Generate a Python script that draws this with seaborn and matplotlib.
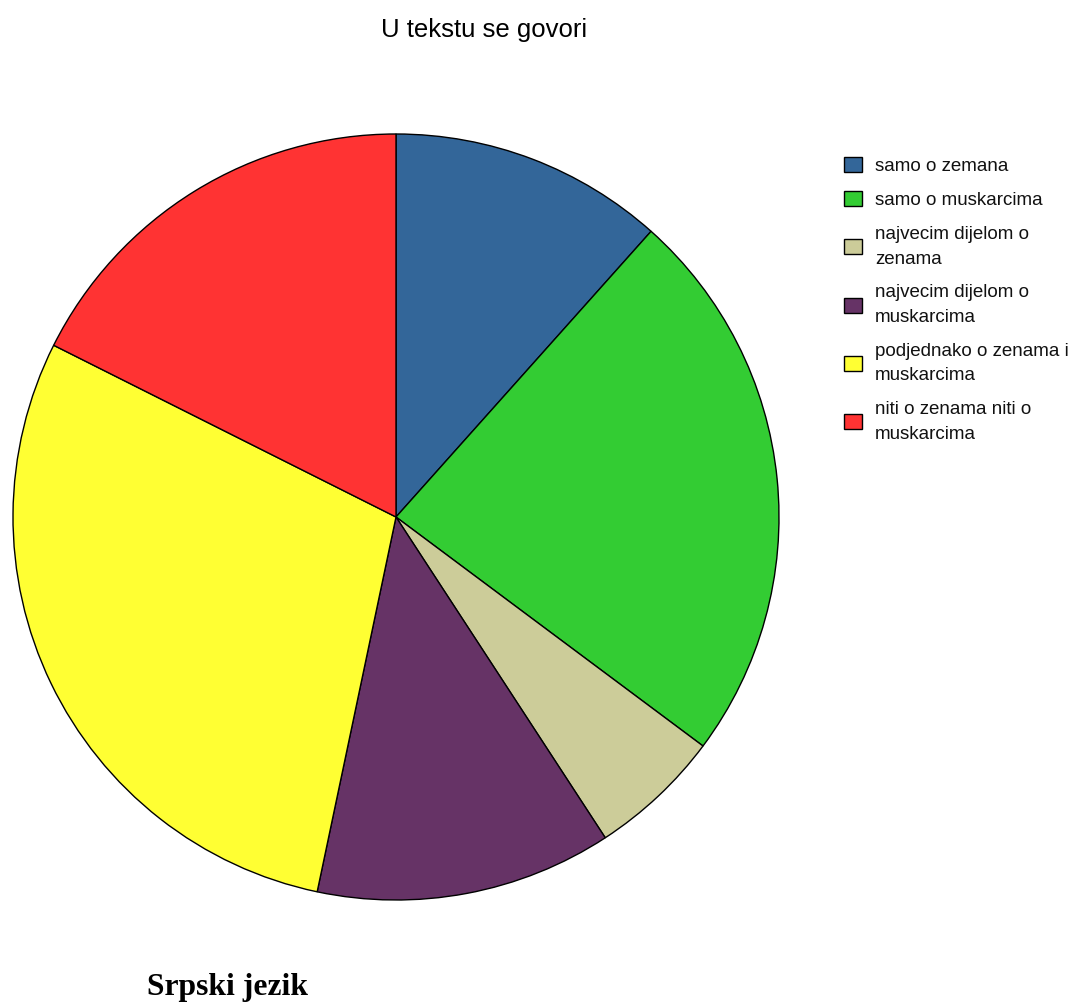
import matplotlib
matplotlib.use("Agg")
import matplotlib.pyplot as plt
import seaborn as sns

sns.set_theme(style="white")
plt.rcParams['font.family'] = ['Liberation Sans', 'DejaVu Sans']
plt.rcParams['text.color'] = 'black'

categories = [
    "samo o zemana",
    "samo o muskarcima",
    "najvecim dijelom o\nzenama",
    "najvecim dijelom o\nmuskarcima",
    "podjednako o zenama i\nmuskarcima",
    "niti o zenama niti o\nmuskarcima",
]
values = [11.6, 23.6, 5.6, 12.5, 29.1, 17.6]
colors = ["#336699", "#33CC33", "#CCCC99", "#663366", "#FFFF33", "#FF3333"]

W, H = 1089, 1005
fig = plt.figure(figsize=(W / 100, H / 100), dpi=100)
fig.patch.set_facecolor("white")

cx, cy, r = 396, 517, 383
ax = fig.add_axes([(cx - r) / W, (H - cy - r) / H, 2 * r / W, 2 * r / H])
wedges, _ = ax.pie(values, colors=colors, startangle=90, counterclock=False,
                   radius=1.0,
                   wedgeprops=dict(edgecolor="black", linewidth=1.0))
ax.set_xlim(-1.0, 1.0)
ax.set_ylim(-1.0, 1.0)
ax.set_aspect("equal")
ax.axis("off")

fig.text(484 / W, 1 - 37 / H, "U tekstu se govori", ha="center", va="baseline",
         fontsize=18.5, color="black")

fig.text(147 / W, 1 - 995 / H, "Srpski jezik", ha="left", va="baseline",
         fontsize=22.8, fontweight="bold", family=["Liberation Serif", "DejaVu Serif"],
         color="black")

leg = fig.legend(wedges, categories, loc="upper left",
                 bbox_to_anchor=(844 / W, 1 - 157 / H),
                 frameon=False, fontsize=13.5, handlelength=0.96, handleheight=0.85,
                 handletextpad=0.7, labelspacing=0.88, borderaxespad=0,
                 borderpad=0)
for t in leg.get_texts():
    t.set_linespacing(1.6)
    t.set_color("#111111")
for h in leg.legend_handles:
    h.set_edgecolor("black")
    h.set_linewidth(1.0)

fig.savefig("out.png", dpi=100, facecolor="white")
